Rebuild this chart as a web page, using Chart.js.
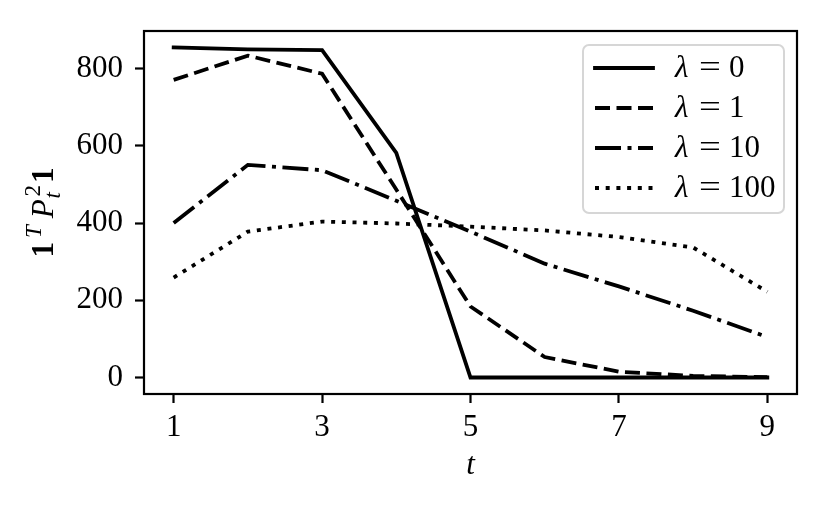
<!DOCTYPE html>
<html>
<head>
<meta charset="utf-8">
<script src="https://cdn.jsdelivr.net/npm/chart.js@4"></script>
<style>
  html, body { margin: 0; padding: 0; background: #fff; }
  #chart { display: block; }
</style>
</head>
<body>
<canvas id="chart" width="830" height="513"></canvas>
<script>
// values
const tValues = [1, 2, 3, 4, 5, 6, 7, 8, 9];
const lambda0 = [855, 850, 848, 582, 0, 0, 0, 0, 0];
const lambda1 = [771, 834, 787, 487, 184, 53, 15, 4, 1];
const lambda10 = [400, 551, 537, 458, 378, 295, 236, 173, 105];
const lambda100 = [259, 378, 404, 399, 391, 381, 364, 337, 222];
const seriesLabels = ["0", "1", "10", "100"];
const xTicks = [1, 3, 5, 7, 9];
const yTicks = [0, 200, 400, 600, 800];

const SERIF = "'Liberation Serif', 'DejaVu Serif', serif";
const FS = 31;
const SS = 23; // super/subscript size

const pts = (vals) => vals.map((v, i) => ({ x: tValues[i], y: v }));

const dashes = [[], [15, 6.5], [26, 6.5, 4, 6.5], [4, 6.7]];
const seriesData = [lambda0, lambda1, lambda10, lambda100];

const datasets = seriesData.map((vals, i) => ({
  label: "λ = " + seriesLabels[i],
  data: pts(vals),
  borderColor: "#000",
  borderWidth: 3.8,
  borderDash: dashes[i],
  borderCapStyle: i === 0 ? "square" : "butt",
  pointRadius: 0,
  tension: 0,
  fill: false
}));

// frame, axis titles and the matplotlib-like legend
const decor = {
  id: "decor",
  afterDraw(chart) {
    const ctx = chart.ctx;
    const a = chart.chartArea;
    ctx.save();

    // spines
    ctx.strokeStyle = "#000";
    ctx.lineWidth = 2.2;
    ctx.strokeRect(a.left, a.top, a.right - a.left, a.bottom - a.top);

    // x title
    ctx.fillStyle = "#000";
    ctx.textBaseline = "alphabetic";
    ctx.textAlign = "center";
    ctx.font = "italic " + FS + "px " + SERIF;
    ctx.fillText("t", (a.left + a.right) / 2, 474);

    // y title: 1^T P_t^2 1, drawn piece by piece along the rotated baseline
    ctx.translate(53, (a.top + a.bottom) / 2);
    ctx.rotate(-Math.PI / 2);
    const bold = "bold " + FS + "px " + SERIF;
    const ital = "italic " + FS + "px " + SERIF;
    const sItal = "italic " + SS + "px " + SERIF;
    const sUp = SS + "px " + SERIF;
    const w = (f, t) => { ctx.font = f; return ctx.measureText(t).width; };
    const wOne = w(bold, "1"), wT = w(sItal, "T"), wP = w(ital, "P");
    const w2 = w(sUp, "2"), wt = w(sItal, "t");
    const total = wOne + 4 + wT + 7 + wP + 1 + Math.max(w2, wt) + 4 + wOne;
    let x = -total / 2;
    ctx.textAlign = "left";
    ctx.font = bold; ctx.fillText("1", x, 0); x += wOne + 4;
    ctx.font = sItal; ctx.fillText("T", x, -12); x += wT + 7;
    ctx.font = ital; ctx.fillText("P", x, 0); x += wP + 1;
    ctx.font = sUp; ctx.fillText("2", x + 2, -13);
    ctx.font = sItal; ctx.fillText("t", x, 7);
    x += Math.max(w2, wt) + 4;
    ctx.font = bold; ctx.fillText("1", x, 0);
    ctx.restore();

    // legend
    ctx.save();
    const bx = 583, by = 45, bw = 201, bh = 168, r = 6;
    ctx.beginPath();
    ctx.roundRect(bx, by, bw, bh, r);
    ctx.fillStyle = "rgba(255,255,255,0.8)";
    ctx.fill();
    ctx.strokeStyle = "#d6d6d6";
    ctx.lineWidth = 2;
    ctx.stroke();

    chart.data.datasets.forEach((ds, i) => {
      const y = 68 + i * 40;
      ctx.beginPath();
      ctx.setLineDash(ds.borderDash);
      ctx.lineCap = ds.borderCapStyle;
      ctx.lineWidth = ds.borderWidth;
      ctx.strokeStyle = "#000";
      ctx.moveTo(595, y);
      ctx.lineTo(653, y);
      ctx.stroke();
      ctx.setLineDash([]);

      ctx.fillStyle = "#000";
      ctx.textBaseline = "middle";
      ctx.textAlign = "left";
      ctx.font = "italic " + FS + "px " + SERIF;
      ctx.fillText("λ", 675, y + 1);
      // widen the "=" a little, like the math font in the reference
      ctx.save();
      ctx.translate(710, y + 1);
      ctx.scale(1.25, 1);
      ctx.font = FS + "px " + SERIF;
      ctx.textAlign = "center";
      ctx.fillText("=", 0, 0);
      ctx.restore();
      ctx.font = FS + "px " + SERIF;
      ctx.textAlign = "left";
      ctx.fillText(seriesLabels[i], 729, y + 1);
    });
    ctx.restore();
  }
};

new Chart(document.getElementById("chart"), {
  type: "line",
  data: { datasets },
  options: {
    responsive: false,
    animation: false,
    layout: { padding: { top: 31, right: 33, left: 0, bottom: 0 } },
    plugins: {
      legend: { display: false },
      tooltip: { enabled: false }
    },
    scales: {
      x: {
        type: "linear",
        min: 0.6,
        max: 9.4,
        afterBuildTicks: (s) => { s.ticks = xTicks.map(v => ({ value: v })); },
        afterFit: (s) => { s.height = 119; },
        grid: {
          drawOnChartArea: false,
          drawTicks: true,
          tickLength: 9,
          tickWidth: 2.2,
          tickColor: "#000"
        },
        border: { display: false },
        ticks: {
          color: "#000",
          padding: 6,
          maxRotation: 0,
          font: { family: SERIF, size: FS }
        }
      },
      y: {
        min: -42.75,
        max: 897.75,
        afterBuildTicks: (s) => { s.ticks = yTicks.map(v => ({ value: v })); },
        afterFit: (s) => { s.width = 144; },
        grid: {
          drawOnChartArea: false,
          drawTicks: true,
          tickLength: 9,
          tickWidth: 2.2,
          tickColor: "#000"
        },
        border: { display: false },
        ticks: {
          color: "#000",
          padding: 12,
          font: { family: SERIF, size: FS }
        }
      }
    }
  },
  plugins: [decor]
});
</script>
</body>
</html>
